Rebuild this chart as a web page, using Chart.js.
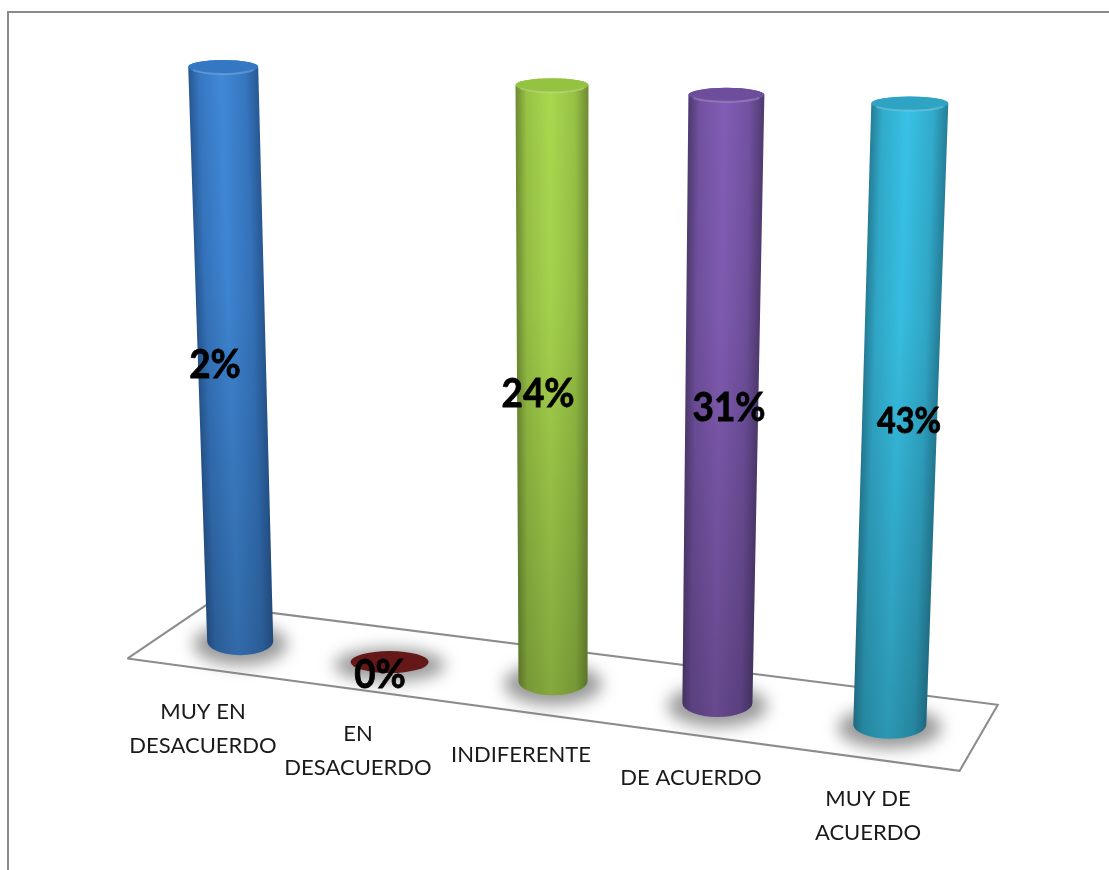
<!DOCTYPE html>
<html>
<head>
<meta charset="utf-8">
<title>Grafico</title>
<script src="https://cdn.jsdelivr.net/npm/chart.js@4/dist/chart.umd.min.js"></script>
<style>
    html, body { margin: 0; padding: 0; background: #fff; overflow: hidden; }
    #marco { position: absolute; left: 7px; top: 11px; right: 0; bottom: 0; border-left: 2px solid #8a8a8a; border-top: 2px solid #8a8a8a; }
    #grafico { position: absolute; left: 0; top: 0; }
</style>
</head>
<body>
<div id="marco"></div>
<canvas id="grafico" width="1109" height="870"></canvas>
<script>
    const categorias=[["MUY EN","DESACUERDO"],["EN","DESACUERDO"],["INDIFERENTE"],["DE ACUERDO"],["MUY DE","ACUERDO"]];
    const porcentajes=[2,0,24,31,43];
    // the 3d view does not follow the percentages
    const basePiso=[26.3,23.9,21.7,19.2,16.7];
    const alturaColumna=[66.0,0,68.5,69.9,71.4];
    const pisoX=[-3.9,5.9,103.3,98.6,-3.9];
    const pisoY=[24.3,30.5,19.0,11.4,24.3];

    // perspective of each column, in pixels
    const corrimiento=[0,-13,-12,-10,0];
    const inclinacion=[-17,0,-1,9,20];
    const radioArriba=[35,39,36.5,38,38.5];
    const radioAbajo=[33,39,34.5,35,36.5];
    const colores=[
        {claro:"#4089d8",medio:"#3676c0",borde:"#285a96",tapa:"#3478c4"},
        {claro:"#651818",medio:"#651818",borde:"#651818",tapa:"#651818"},
        {claro:"#a9d84e",medio:"#97c245",borde:"#708f33",tapa:"#94c241"},
        {claro:"#835db5",medio:"#7151a0",borde:"#523c74",tapa:"#6d4d9c"},
        {claro:"#38c2e6",medio:"#31aacb",borde:"#26819b",tapa:"#2ea3c4"},
    ];
    const posEtiquetas=[[203,712],[358,734],[521,755],[691,778],[868,799]];
    const posValores=[[215,365],[380,675],[538,394],[729,408],[909,421]];
    const tamValores=[41,41,41,41,36];

    function sombras(ctx,xs){
        xs.forEach(function(c){
            ctx.save();
            ctx.filter="blur(8px)";
            ctx.fillStyle="rgba(110,110,110,0.7)";
            ctx.beginPath();
            ctx.ellipse(c.x,c.y+3,c.r*1.42,c.ry*1.5,0,0,Math.PI*2);
            ctx.fill();
            ctx.restore();
        });
    }

    function cilindro(ctx,c,col){
        const xa=c.x+c.lean, ya=c.top, ra=c.rTop, rya=7;
        const xb=c.x, yb=c.y, rb=c.r, ryb=c.ry;

        ctx.save();
        ctx.beginPath();
        ctx.moveTo(xa-ra,ya);
        ctx.lineTo(xb-rb,yb);
        ctx.ellipse(xb,yb,rb,ryb,0,Math.PI,0,true);
        ctx.lineTo(xa+ra,ya);
        ctx.ellipse(xa,ya,ra,rya,0,0,Math.PI,true);
        ctx.closePath();
        ctx.clip();

        // gradient across the column, perpendicular to its axis
        const mx=(xa+xb)/2, my=(ya+yb)/2, rm=(ra+rb)/2;
        const largo=Math.hypot(xb-xa,yb-ya);
        const ux=(yb-ya)/largo, uy=-(xb-xa)/largo;
        const g=ctx.createLinearGradient(mx-ux*rm,my-uy*rm,mx+ux*rm,my+uy*rm);
        g.addColorStop(0,col.borde);
        g.addColorStop(0.14,col.medio);
        g.addColorStop(0.47,col.claro);
        g.addColorStop(0.82,col.medio);
        g.addColorStop(1,col.borde);
        ctx.fillStyle=g;
        ctx.fillRect(Math.min(xa,xb)-60,ya-20,Math.max(ra,rb)*2+120,yb-ya+60);

        // darker towards the floor
        const v=ctx.createLinearGradient(0,ya,0,yb+ryb);
        v.addColorStop(0,"rgba(0,0,0,0)");
        v.addColorStop(0.35,"rgba(0,0,0,0.03)");
        v.addColorStop(1,"rgba(0,0,0,0.22)");
        ctx.fillStyle=v;
        ctx.fillRect(Math.min(xa,xb)-60,ya-20,Math.max(ra,rb)*2+120,yb-ya+60);
        ctx.restore();

        // cap
        ctx.save();
        ctx.beginPath();
        ctx.ellipse(xa,ya,ra,rya,0,0,Math.PI*2);
        ctx.fillStyle=col.tapa;
        ctx.fill();
        ctx.beginPath();
        ctx.ellipse(xa,ya,ra-1,rya,0,0.15*Math.PI,0.85*Math.PI);
        ctx.strokeStyle="rgba(255,255,255,0.2)";
        ctx.lineWidth=2;
        ctx.stroke();
        ctx.restore();
    }

    const columnas3d={
        id: "columnas3d",
        afterDatasetsDraw: function(chart){
            const ctx=chart.ctx;
            const barras=chart.getDatasetMeta(0).data;
            const lista=barras.map(function(b,i){
                const plano=alturaColumna[i]===0;
                return {
                    x: b.x+corrimiento[i],
                    y: b.base,
                    top: b.y,
                    lean: inclinacion[i],
                    r: radioAbajo[i],
                    rTop: radioArriba[i],
                    ry: plano ? 11 : 14,
                    plano: plano,
                };
            });
            sombras(ctx,lista);
            lista.forEach(function(c,i){
                if(c.plano){
                    ctx.beginPath();
                    ctx.ellipse(c.x,c.y,c.r,c.ry,0,0,Math.PI*2);
                    ctx.fillStyle=colores[i].tapa;
                    ctx.fill();
                }else{
                    cilindro(ctx,c,colores[i]);
                }
            });

            ctx.save();
            ctx.textAlign="center";
            ctx.textBaseline="middle";
            ctx.fillStyle="#1a1a1a";
            ctx.font="22px Lato";
            categorias.forEach(function(lineas,i){
                lineas.forEach(function(t,j){
                    ctx.fillText(t,posEtiquetas[i][0],posEtiquetas[i][1]+j*33.5);
                });
            });
            ctx.fillStyle="#000";
            ctx.strokeStyle="#000";
            ctx.lineWidth=0.8;
            porcentajes.forEach(function(p,i){
                ctx.save();
                ctx.translate(posValores[i][0],posValores[i][1]);
                ctx.scale(0.9,1);
                ctx.font="bold "+tamValores[i]+"px Lato";
                ctx.fillText(p+"%",0,0);
                ctx.strokeText(p+"%",0,0);
                ctx.restore();
            });
            ctx.restore();
        },
    };

    const ctxGrafico=document.getElementById("grafico").getContext("2d");
    const grafico=new Chart(ctxGrafico,{
        type: "bar",
        data: {
            labels: categorias,
            datasets: [{
                label: "Porcentaje",
                data: basePiso.map(function(b,i){ return [b,b+alturaColumna[i]]; }),
                backgroundColor: "rgba(0,0,0,0)",
                borderWidth: 0,
                grouped: false,
                order: 1,
            },{
                type: "line",
                label: "Piso",
                data: pisoX.map(function(x,i){ return {x:x,y:pisoY[i]}; }),
                xAxisID: "xPiso",
                borderColor: "#8c8c8c",
                borderWidth: 2,
                pointRadius: 0,
                tension: 0,
                clip: false,
                order: 2,
            }],
        },
        options: {
            responsive: false,
            animation: false,
            layout: {
                padding: { left: 159, right: 138, top: 0, bottom: 0 },
            },
            plugins: {
                legend: { display: false },
                tooltip: { enabled: false },
            },
            scales: {
                x: { display: false },
                xPiso: { type: "linear", display: false, min: 0, max: 100, offset: false },
                y: { display: false, min: 0, max: 100 },
            },
        },
        plugins: [columnas3d],
    });
</script>
</body>
</html>
